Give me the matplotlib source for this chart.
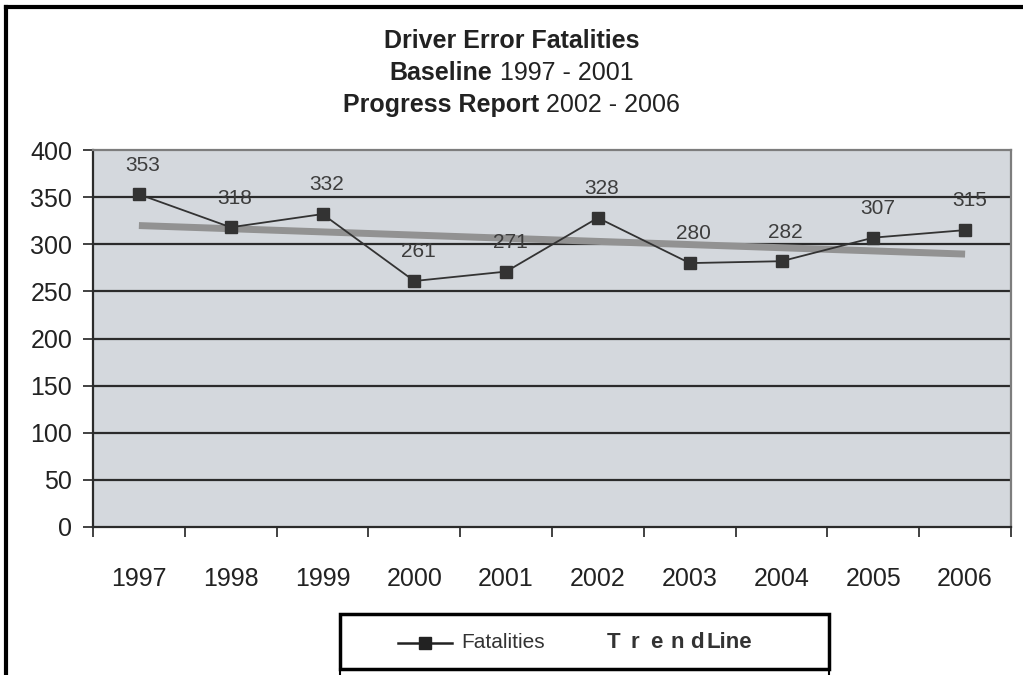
import matplotlib
matplotlib.use("Agg")
import matplotlib.pyplot as plt
import numpy as np
from matplotlib.lines import Line2D
from matplotlib.patches import Rectangle

# data
years = ['1997', '1998', '1999', '2000', '2001', '2002', '2003', '2004', '2005', '2006']
fatalities = [353, 318, 332, 261, 271, 328, 280, 282, 307, 315]
y_ticks = [0, 50, 100, 150, 200, 250, 300, 350, 400]

plt.rcParams['font.family'] = ['Liberation Sans', 'DejaVu Sans']

fig = plt.figure(figsize=(10.23, 6.75), dpi=100)
ax = fig.add_axes([93 / 1023, 1 - 527 / 675, (1011 - 93) / 1023, (527 - 150) / 675])

x = np.arange(len(years))
ax.set_facecolor('#d4d8dd')

# gridlines
for yv in y_ticks[1:-1]:
    ax.axhline(yv, color='#2b2b2b', lw=1.6, zorder=1)

# linear trend fitted to the series
coef = np.polyfit(x, fatalities, 1)
ax.plot(x, np.polyval(coef, x), color='#929292', lw=5, solid_capstyle='butt', zorder=2)

ax.plot(x, fatalities, color='#333333', lw=1.3, marker='s', markersize=8,
        markerfacecolor='#333333', markeredgecolor='#333333', zorder=3)

for xi, v in zip(x, fatalities):
    ax.annotate(str(v), (xi, v), xytext=(3, 21), textcoords='offset points',
                ha='center', va='center', fontsize=15, color='#3d3d3d', zorder=4)

ax.set_xlim(-0.5, len(years) - 0.5)
ax.set_ylim(0, 400)
ax.set_yticks(y_ticks)
ax.set_yticklabels([str(t) for t in y_ticks], fontsize=18, color='#222222')
ax.set_xticks(x)
ax.set_xticklabels(years, fontsize=18, color='#222222')
ax.set_xticks(np.arange(-0.5, len(years)), minor=True)
ax.tick_params(axis='x', which='major', length=0, pad=29)
ax.tick_params(axis='x', which='minor', length=7, width=1.3, color='#333333', direction='out')
ax.tick_params(axis='y', length=7, width=1.3, color='#333333', direction='out', pad=8)

for side in ['left', 'bottom']:
    ax.spines[side].set_color('#2b2b2b')
    ax.spines[side].set_linewidth(1.6)
for side in ['top', 'right']:
    ax.spines[side].set_color('#7d7d7d')
    ax.spines[side].set_linewidth(1.6)

# title: bold lead-in followed by regular text, centred on the figure
renderer = fig.canvas.get_renderer()
title_lines = [('Driver Error Fatalities', '', 1 - 41 / 675),
               ('Baseline', ' 1997 - 2001', 1 - 73 / 675),
               ('Progress Report', ' 2002 - 2006', 1 - 105 / 675)]
for bold, reg, yy in title_lines:
    t1 = fig.text(0, yy, bold, fontsize=18, fontweight='bold',
                  color='#222222', ha='left', va='center')
    t2 = fig.text(0, yy, reg, fontsize=18, color='#222222',
                  ha='left', va='center')
    w1 = t1.get_window_extent(renderer).width / fig.bbox.width
    w2 = t2.get_window_extent(renderer).width / fig.bbox.width if reg else 0
    start = 0.5 - (w1 + w2) / 2
    t1.set_x(start)
    t2.set_x(start + w1)

# outer frame (top and left edges visible)
fig.add_artist(Line2D([6 / 1023, 1], [1 - 7 / 675] * 2, color='black', lw=3))
fig.add_artist(Line2D([6 / 1023] * 2, [0, 1 - 7 / 675], color='black', lw=3))

# legend box drawn by hand
lx0, lx1 = 340 / 1023, 829 / 1023
ly0, ly1 = 1 - 669 / 675, 1 - 614 / 675
fig.add_artist(Rectangle((lx0, ly0), lx1 - lx0, ly1 - ly0, fill=False,
                         edgecolor='black', lw=2.5, transform=fig.transFigure))
fig.add_artist(Line2D([lx0, lx0], [0, ly0], color='black', lw=1.5))
fig.add_artist(Line2D([lx1, lx1], [0, ly0], color='black', lw=1.5))
ly = 1 - 643 / 675
fig.add_artist(Line2D([398 / 1023, 452 / 1023], [ly, ly], color='#222222', lw=1.8))
fig.add_artist(Line2D([425 / 1023], [ly], marker='s', markersize=8, color='#222222'))
fig.text(461 / 1023, ly, 'Fatalities', fontsize=15, color='#333333', ha='left', va='center')
for ch, px in zip('Trend', [614, 635, 656, 677, 697]):
    fig.text(px / 1023, ly, ch, fontsize=16, fontweight='bold', color='#333333',
             ha='center', va='center')
fig.text(706 / 1023, ly, 'Line', fontsize=16, fontweight='bold', color='#333333',
         ha='left', va='center')

fig.savefig('out.png', dpi=100, facecolor='white')
